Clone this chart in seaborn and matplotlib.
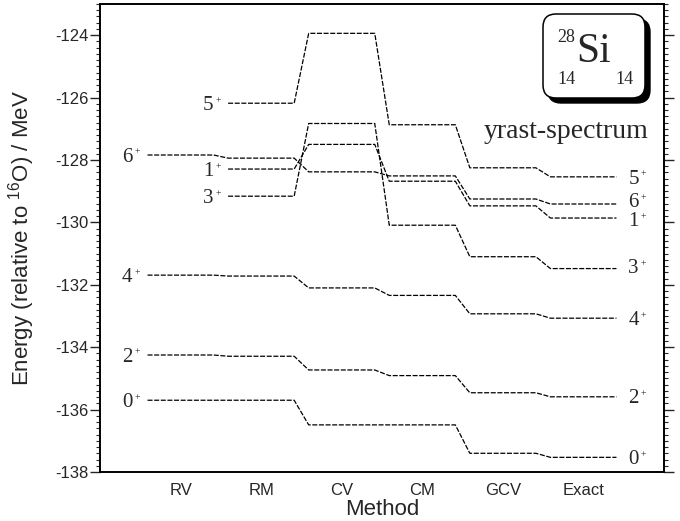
import numpy as np
import pandas as pd
import seaborn as sns
import matplotlib.pyplot as plt
from matplotlib.ticker import MultipleLocator
from matplotlib.patches import FancyBboxPatch

# yrast levels of 28Si (MeV, relative to 16O) for each method
methods = ["RV", "RM", "CV", "CM", "GCV", "Exact"]
spins = ["0", "2", "4", "6", "1", "3", "5"]
E_0 = [-135.70, -135.70, -136.49, -136.49, -137.40, -137.53]
E_2 = [-134.25, -134.29, -134.73, -134.91, -135.46, -135.59]
E_4 = [-131.69, -131.72, -132.10, -132.34, -132.93, -133.07]
E_6 = [-127.84, -127.94, -128.38, -128.51, -129.25, -129.41]
E_1 = [np.nan, -128.29, -127.50, -128.68, -129.47, -129.86]
E_3 = [np.nan, -129.16, -126.83, -130.09, -131.10, -131.48]
E_5 = [np.nan, -126.18, -123.94, -126.87, -128.25, -128.54]
levels = dict(zip(spins, [E_0, E_2, E_4, E_6, E_1, E_3, E_5]))

half = 0.41  # half width of a level bar
# small vertical nudges (points) of the right-hand labels so they don't collide
right_nudge = {"6": 2.6, "1": -1.0, "3": 1.4}

rows = []
for s, vals in levels.items():
    for i, v in enumerate(vals):
        if np.isnan(v):
            continue
        xc = i + 1
        rows.append({"spin": s, "x": xc - half, "E": v})
        rows.append({"spin": s, "x": xc + half, "E": v})
df = pd.DataFrame(rows)

sns.set_style("ticks")
plt.rcParams["font.family"] = ["Liberation Sans", "DejaVu Sans"]
plt.rcParams["axes.unicode_minus"] = False
plt.rcParams["mathtext.fontset"] = "custom"
plt.rcParams["mathtext.rm"] = "Liberation Sans"

fig = plt.figure(figsize=(6.8, 5.21), dpi=100)
ax = fig.add_axes([100 / 680, 49 / 521, 564 / 680, 468 / 521])

sns.lineplot(data=df, x="x", y="E", units="spin", estimator=None, sort=False,
             color="black", lw=0.9, linestyle=(0, (4, 1.3)), legend=False, ax=ax)

serif = ["Liberation Serif", "DejaVu Serif"]

def level_label(x, y, spin, side, dy=0.0):
    if side == "left":
        t = ax.annotate(spin, (x, y), xytext=(-10.8, -4.8 + dy), textcoords="offset points",
                        ha="right", va="baseline", fontsize=15, family=serif)
    else:
        t = ax.annotate(spin, (x, y), xytext=(8.6, -4.8 + dy), textcoords="offset points",
                        ha="left", va="baseline", fontsize=15, family=serif)
    ax.annotate("+", (1, 0), xycoords=t, xytext=(1.5, 10.4), textcoords="offset points",
                ha="left", va="center", fontsize=7, family=serif)

for s, vals in levels.items():
    first = next(i for i, v in enumerate(vals) if not np.isnan(v))
    level_label(first + 1 - half, vals[first], s, "left")
    level_label(len(methods) + half, vals[-1], s, "right", right_nudge.get(s, 0.0))

ax.set_xlim(0, 7)
ax.set_ylim(-138, -123)
ax.set_xticks(range(1, len(methods) + 1))
ax.set_xticklabels(methods)
ax.yaxis.set_major_locator(MultipleLocator(2))
ax.yaxis.set_minor_locator(MultipleLocator(0.2))
ax.tick_params(axis="x", length=0, pad=8, labelsize=12)
ax.tick_params(axis="y", which="both", direction="out", left=True, right=True,
               labelsize=12, pad=1.5, width=1)
ax.tick_params(axis="y", which="major", length=7)
ax.tick_params(axis="y", which="minor", length=3, width=0.8)
for sp in ax.spines.values():
    sp.set_linewidth(1.4)
    sp.set_color("black")

ax.set_xlabel("Method", fontsize=16)
ax.set_ylabel("Energy (relative to $^{16}$O) / MeV", fontsize=16)
ax.xaxis.set_label_coords(0.5, -0.058)
ax.yaxis.set_label_coords(-0.112, 0.5)

# nucleus box in the upper right (figure pixels -> inches)
def px(x, y):
    return x / 100, (521 - y) / 100

tr = fig.dpi_scale_trans
x0, y0 = px(543, 98)
shadow = FancyBboxPatch((x0 + 0.05, y0 - 0.05), 1.02, 0.84,
                        boxstyle="round,pad=0,rounding_size=0.13",
                        transform=tr, fc="black", ec="black", lw=1.0)
box = FancyBboxPatch((x0, y0), 1.02, 0.84, boxstyle="round,pad=0,rounding_size=0.13",
                     transform=tr, fc="white", ec="black", lw=1.1)
fig.add_artist(shadow)
fig.add_artist(box)
fig.text(*px(576, 62), "Si", transform=tr, fontsize=30, family=serif,
         ha="left", va="baseline")
fig.text(*px(575.5, 42), "28", transform=tr, fontsize=13, family=serif,
         ha="right", va="baseline")
fig.text(*px(575.5, 84), "14", transform=tr, fontsize=13, family=serif,
         ha="right", va="baseline")
fig.text(*px(615, 84), "14", transform=tr, fontsize=13, family=serif,
         ha="left", va="baseline")
fig.text(*px(566, 138), "yrast-spectrum", transform=tr, fontsize=20, family=serif,
         ha="center", va="baseline")

fig.savefig("out.png", dpi=100)
